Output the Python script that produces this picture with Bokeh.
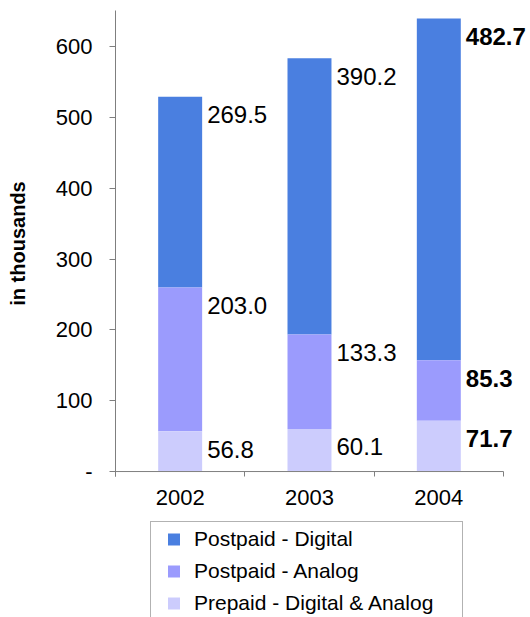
from bokeh.plotting import figure
from bokeh.layouts import column
from bokeh.models import Range1d, FixedTicker, Legend, LegendItem, ColumnDataSource
from bokeh.embed import file_html
from bokeh.resources import INLINE

# Subscribers per year, in thousands
years = ["2002", "2003", "2004"]
prepaid = [56.8, 60.1, 71.7]          # Prepaid - Digital & Analog
postpaid_analog = [203.0, 133.3, 85.3]
postpaid_digital = [269.5, 390.2, 482.7]

series_names = ["Postpaid - Digital", "Postpaid - Analog", "Prepaid - Digital & Analog"]
colors = ["#4a7fe0", "#9b9bfd", "#ccccfd"]
y_ticks = [0, 100, 200, 300, 400, 500, 600]
bold_year = "2004"

FONT = "Liberation Sans"
AXIS_GREY = "#7f7f7f"

xpos = [i + 1 for i in range(len(years))]
bar_w = 0.34
x_lo, x_hi = xpos[0] - 0.5, xpos[-1] + 0.5

# stacked segment bounds
b_prepaid = [0.0] * len(years)
t_prepaid = [b + v for b, v in zip(b_prepaid, prepaid)]
t_analog = [b + v for b, v in zip(t_prepaid, postpaid_analog)]
t_digital = [b + v for b, v in zip(t_analog, postpaid_digital)]

# the frame runs on to the right edge so the outer labels are not clipped
p = figure(
    width=530, height=520,
    output_backend="svg", toolbar_location=None,
    x_range=Range1d(x_lo, 3.709),
    y_range=Range1d(-7, 651),
    min_border_left=115, min_border_right=0,
    min_border_top=10, min_border_bottom=44,
)
p.outline_line_color = None
p.xgrid.visible = False
p.ygrid.visible = False

segments = [
    (t_analog, t_digital, colors[0]),
    (t_prepaid, t_analog, colors[1]),
    (b_prepaid, t_prepaid, colors[2]),
]
for bottom, top, col in segments:
    src = ColumnDataSource(dict(x=xpos, bottom=bottom, top=top))
    p.vbar(x="x", bottom="bottom", top="top", width=bar_w, source=src,
           fill_color=col, line_color=None)

# category baseline at zero
p.segment(x0=[x_lo], y0=[0], x1=[x_hi], y1=[0], line_color=AXIS_GREY, line_width=1)

# value labels, right of each segment near its top
for vals, tops in [(postpaid_digital, t_digital), (postpaid_analog, t_analog), (prepaid, t_prepaid)]:
    for style in ("normal", "bold"):
        xs, ys, txt = [], [], []
        for x, yr, v, t in zip(xpos, years, vals, tops):
            if (yr == bold_year) == (style == "bold"):
                xs.append(x + bar_w / 2)
                ys.append(t)
                txt.append(f"{v:.1f}")
        p.text(x=xs, y=ys, text=txt, x_offset=5, y_offset=18,
               text_baseline="middle", text_align="left",
               text_font_size="24px", text_font_style=style,
               text_color="black", text_font={"value": FONT})

# y axis
ya = p.yaxis[0]
ya.ticker = FixedTicker(ticks=y_ticks)
ya.major_label_overrides = {0: "-"}
ya.axis_line_color = AXIS_GREY
ya.major_tick_line_color = AXIS_GREY
ya.major_tick_in = 0
ya.major_tick_out = 6
ya.minor_tick_line_color = None
ya.major_label_standoff = 17
ya.major_label_text_font = FONT
ya.major_label_text_font_size = "22px"
ya.major_label_text_color = "black"
ya.axis_label = "in thousands"
ya.axis_label_text_font = FONT
ya.axis_label_text_font_style = "bold"
ya.axis_label_text_font_size = "20px"
ya.axis_label_text_color = "black"
ya.axis_label_standoff = 24

# x axis: labels at category centres, ticks on category boundaries
xa = p.xaxis[0]
boundaries = [x - 0.5 for x in xpos] + [xpos[-1] + 0.5]
xa.ticker = FixedTicker(ticks=xpos, minor_ticks=boundaries)
xa.major_label_overrides = {x: y for x, y in zip(xpos, years)}
xa.axis_line_color = None
xa.major_tick_line_color = None
xa.major_tick_in = 0
xa.major_tick_out = 0
xa.minor_tick_line_color = AXIS_GREY
xa.minor_tick_in = 5
xa.minor_tick_out = 0
xa.major_label_standoff = 13
xa.major_label_text_font = FONT
xa.major_label_text_font_size = "22px"
xa.major_label_text_color = "black"

# legend strip underneath (frame aligned with the chart's frame)
lg = figure(
    width=530, height=97,
    output_backend="svg", toolbar_location=None,
    x_axis_type=None, y_axis_type=None,
    x_range=Range1d(0, 1), y_range=Range1d(0, 1),
    min_border_left=115, min_border_right=0, min_border_top=0, min_border_bottom=0,
)
lg.outline_line_color = None
lg.xgrid.visible = False
lg.ygrid.visible = False

items = []
for name, col in zip(series_names, colors):
    # one point kept outside the visible range; only its legend swatch shows
    r = lg.scatter(x=[-5], y=[-5], marker="square", size=12, fill_color=col, line_color=None)
    items.append(LegendItem(label=name, renderers=[r]))

legend = Legend(
    items=items, location=(35, -4), margin=0, padding=2, spacing=2,
    glyph_width=41, glyph_height=30, label_height=30, label_width=266,
    label_standoff=0,
    label_text_font=FONT, label_text_font_size="21px", label_text_color="black",
    border_line_color="#666666", border_line_width=1,
    background_fill_color="white", background_fill_alpha=1,
)
lg.add_layout(legend, "center")

layout = column(p, lg, spacing=0)
open("out.html", "w").write(file_html(layout, INLINE))
